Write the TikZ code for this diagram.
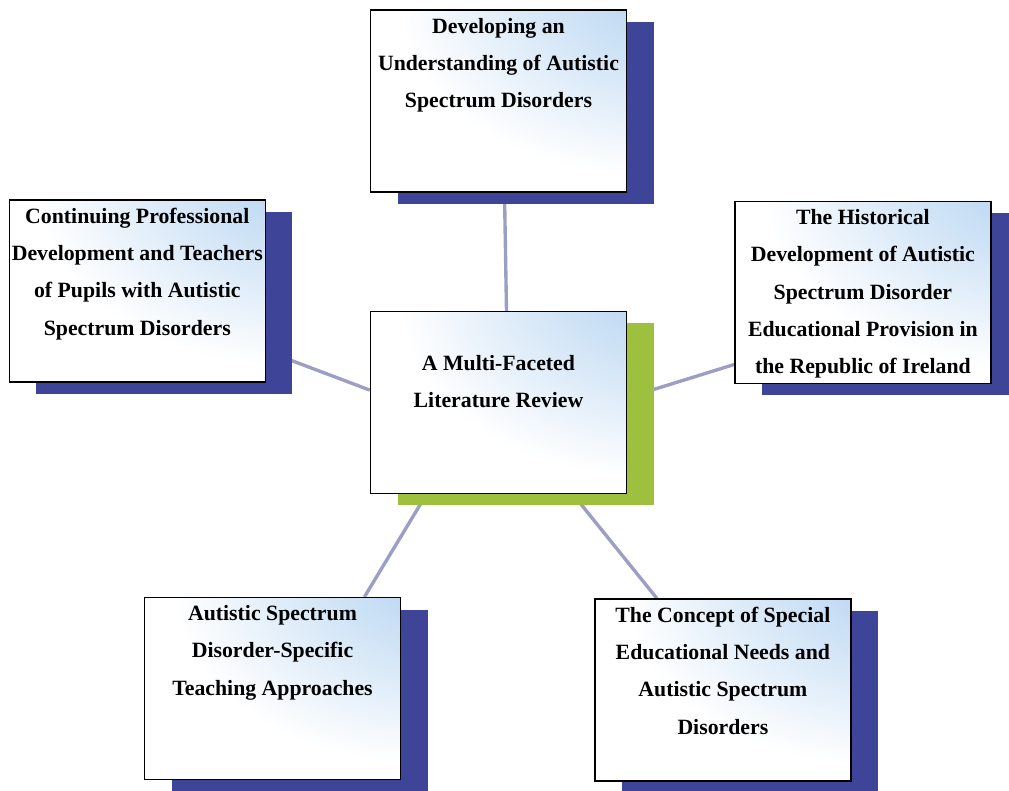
\documentclass[tikz,border=0pt]{standalone}
\usepackage{fontspec}
\setmainfont{Liberation Serif}
\usepackage{xcolor}
\usepackage{tikz}
\usetikzlibrary{positioning, shadows, backgrounds}
\definecolor{panelshadow}{HTML}{3E4598}
\definecolor{hubshadow}{HTML}{9DC03F}
\definecolor{cornerblue}{HTML}{A6CBEE}
\definecolor{linkgrey}{HTML}{9C9EC4}
\pgfdeclareradialshading{cornerglow}{\pgfpoint{48bp}{46bp}}{color(0bp)=(cornerblue); color(8bp)=(cornerblue); color(48bp)=(white); color(120bp)=(white)}

\begin{document}
\begin{tikzpicture}[
    box/.style={draw, line width=1pt, inner sep=0pt, shade, shading=cornerglow,
        execute at begin node={\begin{minipage}[t][4.55cm][t]{6.4cm}\centering\fontsize{15.5}{26.5}\selectfont\bfseries\vspace*{0.2cm}},
        execute at end node={\end{minipage}}},
    panel/.style={box, drop shadow={shadow xshift=0.68cm, shadow yshift=-0.3cm, fill=panelshadow, opacity=1}},
    hub/.style={box, drop shadow={shadow xshift=0.68cm, shadow yshift=-0.3cm, fill=hubshadow, opacity=1}},
    link/.style={line width=2.4pt, color=linkgrey}
]
\useasboundingbox (-12.4625,-9.7125) rectangle (12.7625,10.0625);

\node[hub] (review) at (0,0) {\vspace*{0.9cm}A Multi-Faceted\\Literature Review};
\node[panel, above=2.95cm of review] (dev) {Developing an\\Understanding of Autistic\\Spectrum Disorders};
\node[panel] (cpd) at (-9.03,2.79) {Continuing Professional\\Development and Teachers\\of Pupils with Autistic\\Spectrum Disorders};
\node[panel] (hist) at (9.11,2.75) {The Historical\\Development of Autistic\\Spectrum Disorder\\Educational Provision in\\the Republic of Ireland};
\node[panel] (teach) at (-5.65,-7.15) {Autistic Spectrum\\Disorder-Specific\\Teaching Approaches};
\node[panel] (sen) at (5.61,-7.19) {The Concept of Special\\Educational Needs and\\Autistic Spectrum\\Disorders};

% spokes sit behind the boxes and their shadows
\begin{pgfonlayer}{background}
\draw[link] ([xshift=0.2cm]review.north) -- ([xshift=0.15cm]dev.south);
\draw[link] ([yshift=0.31cm]review.west) -- ([yshift=-1.5cm]cpd.east);
\draw[link] ([yshift=0.12cm]review.east) -- ([yshift=-1.8cm]hist.west);
\draw[link] ([xshift=-1.8cm]review.south) -- ([xshift=2.3cm]teach.north);
\draw[link] ([xshift=1.86cm]review.south) -- ([xshift=-1.65cm]sen.north);
\end{pgfonlayer}
\end{tikzpicture}
\end{document}
